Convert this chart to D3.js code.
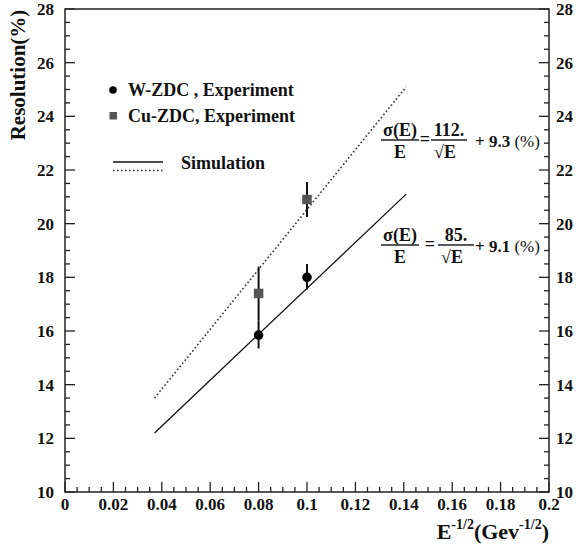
<!DOCTYPE html>
<html>
<head>
<meta charset="utf-8">
<script src="https://cdn.jsdelivr.net/npm/d3@7"></script>
<style>
body { margin: 0; background: #fff; }
text { font-family: "Liberation Serif", "Times New Roman", serif; font-weight: bold; fill: #111; }
</style>
</head>
<body>
<script>
var w = 579;
var h = 550;

// Experiment points
var wX = [0.08, 0.1];
var wY = [15.85, 18.0];
var wLo = [15.35, 17.55];
var wHi = [16.4, 18.5];

var cuX = [0.08, 0.1];
var cuY = [17.4, 20.9];
var cuLo = [16.4, 20.25];
var cuHi = [18.4, 21.55];

// Simulation lines (end points)
var simX = [0.037, 0.141];
var wSim = [12.2, 21.1];
var cuSim = [13.5, 25.1];

var xTicks = [0, 0.02, 0.04, 0.06, 0.08, 0.1, 0.12, 0.14, 0.16, 0.18, 0.2];
var yTicks = [10, 12, 14, 16, 18, 20, 22, 24, 26, 28];

var pLeft = 65, pRight = 549, pTop = 9, pBottom = 492;

var x = d3.scaleLinear().domain([0, 0.2]).range([pLeft, pRight]);
var y = d3.scaleLinear().domain([10, 28]).range([pBottom, pTop]);

var svg = d3.select("body")
    .append("svg")
    .attr("width", w)
    .attr("height", h)
    .attr("font-family", "Liberation Serif, serif");

// frame
svg.append("rect")
    .attr("x", pLeft)
    .attr("y", pTop)
    .attr("width", pRight - pLeft)
    .attr("height", pBottom - pTop)
    .attr("fill", "none")
    .attr("stroke", "#222")
    .attr("stroke-width", 1.5);

// minor / major ticks
var xMinor = d3.range(0, 0.2001, 0.005);
var yMinor = d3.range(10, 28.001, 0.5);

function fmt(d) { return d === 0 ? "0" : String(+d.toFixed(2)); }

svg.selectAll(".xt")
    .data(xMinor)
    .enter().append("line")
    .attr("x1", function(d) { return x(d); })
    .attr("x2", function(d) { return x(d); })
    .attr("y1", pBottom)
    .attr("y2", function(d, i) { return pBottom - (i % 4 === 0 ? 10 : 5); })
    .attr("stroke", "#222")
    .attr("stroke-width", 1.3);

svg.selectAll(".ytl")
    .data(yMinor)
    .enter().append("line")
    .attr("x1", pLeft)
    .attr("x2", function(d, i) { return pLeft + (i % 4 === 0 ? 10 : 5); })
    .attr("y1", function(d) { return y(d); })
    .attr("y2", function(d) { return y(d); })
    .attr("stroke", "#222")
    .attr("stroke-width", 1.3);

svg.selectAll(".ytr")
    .data(yMinor)
    .enter().append("line")
    .attr("x1", pRight)
    .attr("x2", function(d, i) { return pRight - (i % 4 === 0 ? 10 : 5); })
    .attr("y1", function(d) { return y(d); })
    .attr("y2", function(d) { return y(d); })
    .attr("stroke", "#222")
    .attr("stroke-width", 1.3);

// tick labels
svg.selectAll(".xl")
    .data(xTicks)
    .enter().append("text")
    .attr("x", function(d) { return x(d); })
    .attr("y", pBottom + 18)
    .attr("text-anchor", "middle")
    .attr("font-size", 17)
    .text(fmt);

svg.selectAll(".yl")
    .data(yTicks)
    .enter().append("text")
    .attr("x", pLeft - 11)
    .attr("y", function(d) { return y(d) + 6; })
    .attr("text-anchor", "end")
    .attr("font-size", 17)
    .text(function(d) { return d; });

svg.selectAll(".yr")
    .data(yTicks)
    .enter().append("text")
    .attr("x", pRight + 7)
    .attr("y", function(d) { return y(d) + 6; })
    .attr("text-anchor", "start")
    .attr("font-size", 17)
    .text(function(d) { return d; });

// axis titles
svg.append("text")
    .attr("transform", "translate(25,75) rotate(-90)")
    .attr("text-anchor", "middle")
    .attr("font-size", 21)
    .text("Resolution(%)");

var xt = svg.append("text")
    .attr("x", pRight)
    .attr("y", 539)
    .attr("text-anchor", "end")
    .attr("font-size", 22);
xt.append("tspan").text("E");
xt.append("tspan").attr("font-size", 14).attr("dy", -10).text("-1/2");
xt.append("tspan").attr("dy", 10).text("(Gev");
xt.append("tspan").attr("font-size", 14).attr("dy", -10).text("-1/2");
xt.append("tspan").attr("dy", 10).text(")");

// simulation lines
var line = d3.line()
    .x(function(d) { return x(d[0]); })
    .y(function(d) { return y(d[1]); });

svg.append("path")
    .attr("d", line(d3.zip(simX, wSim)))
    .attr("fill", "none")
    .attr("stroke", "#111")
    .attr("stroke-width", 1.3);

svg.append("path")
    .attr("d", line(d3.zip(simX, cuSim)))
    .attr("fill", "none")
    .attr("stroke", "#333")
    .attr("stroke-width", 1.6)
    .attr("stroke-dasharray", "1.6,2.4");

// error bars
function errBars(xs, lo, hi) {
    svg.selectAll(null)
        .data(xs)
        .enter().append("line")
        .attr("x1", function(d) { return x(d); })
        .attr("x2", function(d) { return x(d); })
        .attr("y1", function(d, i) { return y(lo[i]); })
        .attr("y2", function(d, i) { return y(hi[i]); })
        .attr("stroke", "#111")
        .attr("stroke-width", 2);
}
errBars(cuX, cuLo, cuHi);
errBars(wX, wLo, wHi);

svg.selectAll(".cu")
    .data(cuX)
    .enter().append("rect")
    .attr("x", function(d) { return x(d) - 4.75; })
    .attr("y", function(d, i) { return y(cuY[i]) - 4.75; })
    .attr("width", 9.5)
    .attr("height", 9.5)
    .attr("fill", "#555");

svg.selectAll(".wz")
    .data(wX)
    .enter().append("circle")
    .attr("cx", function(d) { return x(d); })
    .attr("cy", function(d, i) { return y(wY[i]); })
    .attr("r", 4.8)
    .attr("fill", "#000");

// legend
svg.append("circle").attr("cx", 113).attr("cy", 90).attr("r", 3.8).attr("fill", "#000");
svg.append("text").attr("x", 128).attr("y", 96).attr("font-size", 18).text("W-ZDC , Experiment");
svg.append("rect").attr("x", 109.5).attr("y", 112).attr("width", 7.5).attr("height", 7.5).attr("fill", "#555");
svg.append("text").attr("x", 128).attr("y", 122).attr("font-size", 18).text("Cu-ZDC, Experiment");
svg.append("line").attr("x1", 113).attr("x2", 163).attr("y1", 162).attr("y2", 162)
    .attr("stroke", "#111").attr("stroke-width", 1.3);
svg.append("line").attr("x1", 113).attr("x2", 163).attr("y1", 170.5).attr("y2", 170.5)
    .attr("stroke", "#333").attr("stroke-width", 1.6).attr("stroke-dasharray", "1.6,2.4");
svg.append("text").attr("x", 181).attr("y", 169).attr("font-size", 18).text("Simulation");

// formulae
function formula(barY, coef, cst, eqX, nx) {
    var cx = 400;
    var g = svg.append("g");
    g.append("text").attr("x", cx).attr("y", barY - 4).attr("text-anchor", "middle")
        .attr("font-size", 18).text("\u03c3(E)");
    g.append("line").attr("x1", cx - 19).attr("x2", cx + 19).attr("y1", barY).attr("y2", barY)
        .attr("stroke", "#222").attr("stroke-width", 1.3);
    g.append("text").attr("x", cx).attr("y", barY + 18).attr("text-anchor", "middle")
        .attr("font-size", 18).text("E");
    g.append("text").attr("x", eqX).attr("y", barY + 5).attr("text-anchor", "middle")
        .attr("font-size", 18).text("=");
    g.append("text").attr("x", nx).attr("y", barY - 4).attr("text-anchor", "middle")
        .attr("font-size", 18).text(coef);
    g.append("line").attr("x1", nx - 18).attr("x2", nx + 18).attr("y1", barY).attr("y2", barY)
        .attr("stroke", "#222").attr("stroke-width", 1.3);
    g.append("text").attr("x", nx - 4).attr("y", barY + 18).attr("text-anchor", "middle")
        .attr("font-size", 18).text("\u221aE");
    var t = g.append("text").attr("x", 475).attr("y", barY + 7).attr("font-size", 17);
    t.append("tspan").text("+ " + cst + " ");
    t.append("tspan").attr("font-weight", "normal").text("(%)");
}
formula(140, "112.", "9.3", 425, 449);
formula(245, "85.", "9.1", 430, 456);
</script>
</body>
</html>
